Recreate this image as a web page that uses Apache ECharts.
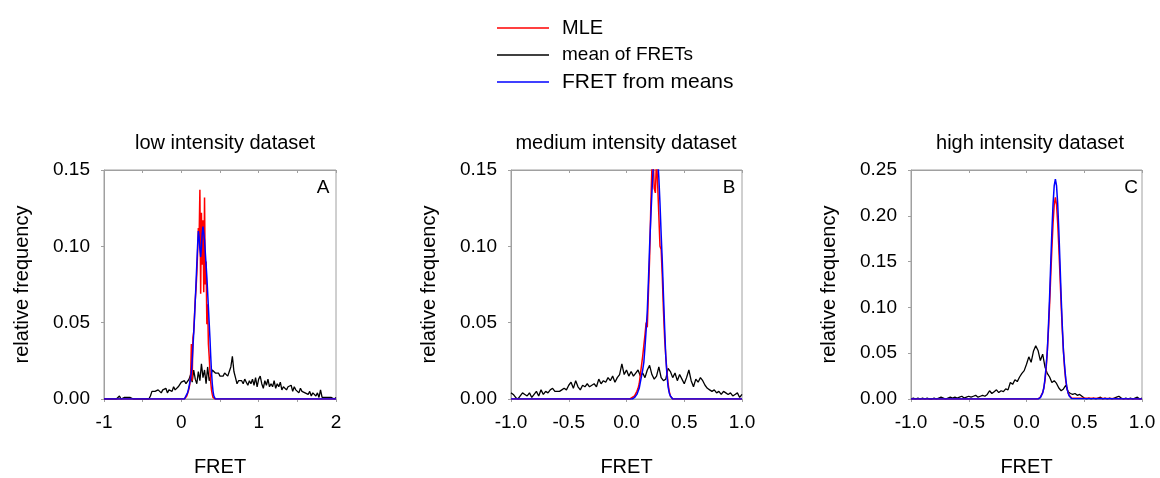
<!DOCTYPE html>
<html>
<head>
<meta charset="utf-8">
<script src="https://cdn.jsdelivr.net/npm/echarts@6/dist/echarts.min.js"></script>
<style>
html,body{margin:0;padding:0;background:#fff;}
#chart{width:1160px;height:478px;}
</style>
</head>
<body>
<div id="chart"></div>
<script>
// ---------------- DATA ----------------
const panelTitles = ['low intensity dataset', 'medium intensity dataset', 'high intensity dataset'];
const panelLetters = ['A', 'B', 'C'];
const seriesNames = ['MLE', 'mean of FRETs', 'FRET from means'];

// x ranges / ticks
const xMinA = -1, xMaxA = 2, xMinB = -1, xMaxB = 1, xMinC = -1, xMaxC = 1;
const yMaxA = 0.15, yMaxB = 0.15, yMaxC = 0.25;

// "mean of FRETs" histograms (bin step 0.02, first bin at x = -1.00)
const binStart = -1.0;
const binStep = 0.02;
const meanA = [
  0,0,0,0,0,0,0,0,0,0,
  0.002,0,0,0.001,0,0.001,0,0.001,0,0,
  0,0,0,0,0,0,0,0,0.001,0,
  0.002,0.005,0.004,0.005,0.004,0.006,0.005,0.004,0.006,0.005,
  0.007,0.004,0.006,0.007,0.005,0.008,0.006,0.007,0.008,0.009,
  0.011,0.010,0.012,0.010,0.011,0.013,0.016,0.011,0.019,0.013,
  0.010,0.018,0.012,0.023,0.014,0.019,0.010,0.021,0.012,0.015,
  0.019,0.018,0.017,0.016,0.017,0.015,0.016,0.015,0.017,0.016,
  0.015,0.018,0.021,0.028,0.018,0.014,0.010,0.012,0.011,0.012,
  0.010,0.013,0.011,0.009,0.012,0.010,0.013,0.009,0.014,0.008,
  0.013,0.015,0.010,0.007,0.012,0.009,0.013,0.008,0.010,0.008,
  0.012,0.007,0.010,0.008,0.011,0.006,0.008,0.009,0.006,0.008,
  0.007,0.009,0.005,0.008,0.006,0.007,0.004,0.007,0.005,0.006,
  0.004,0.005,0.003,0.005,0.002,0.004,0.003,0.002,0.004,0.001,
  0.006,0.001,0.000,0.001,0.002,0.001,0.002,0.001,0.002,0.000,
  0.001
];
const meanB = [
  0.004,0.003,0.001,0.000,0.002,0.004,0.003,0.002,0.004,0.001,
  0.003,0.005,0.002,0.006,0.003,0.005,0.004,0.006,0.007,0.005,
  0.005,0.005,0.006,0.007,0.006,0.009,0.011,0.007,0.012,0.008,
  0.006,0.009,0.008,0.010,0.008,0.009,0.010,0.008,0.013,0.010,
  0.012,0.011,0.014,0.012,0.015,0.011,0.014,0.016,0.023,0.016,
  0.019,0.015,0.018,0.015,0.017,0.019,0.015,0.017,0.014,0.019,
  0.022,0.016,0.013,0.015,0.021,0.014,0.012,0.013,0.020,0.018,
  0.014,0.017,0.012,0.016,0.013,0.010,0.014,0.019,0.012,0.008,
  0.013,0.011,0.014,0.012,0.009,0.007,0.006,0.005,0.006,0.004,
  0.005,0.003,0.005,0.004,0.003,0.004,0.002,0.003,0.004,0.001,
  0.003
];
const meanC = [
  0,0.001,0,0.001,0,0.001,0,0.001,0,0,
  0.001,0,0.001,0.002,0.001,0,0.001,0.002,0.001,0.002,
  0.001,0.002,0.003,0.001,0.002,0.003,0.002,0.003,0.004,0.002,
  0.003,0.004,0.003,0.005,0.009,0.006,0.008,0.010,0.007,0.009,
  0.008,0.011,0.010,0.018,0.016,0.021,0.019,0.024,0.028,0.031,
  0.038,0.046,0.040,0.052,0.058,0.053,0.042,0.049,0.035,0.028,
  0.024,0.018,0.020,0.017,0.012,0.009,0.011,0.015,0.008,0.006,
  0.005,0.006,0.004,0.005,0.003,0.001,0.000,0.001,0.000,0.001,
  0.000,0.001,0.002,0.000,0.001,0.000,0.001,0.000,0.001,0.002,
  0.003,0.001,0.000,0.001,0.000,0.001,0.000,0.001,0.002,0.000,
  0.001
];

// MLE and FRET-from-means curves (x positions and values)
const peakXA = [-1.00,
  0.04,0.05,0.06,0.07,0.08,0.09,0.10,0.11,0.12,0.13,0.14,0.15,0.16,0.17,0.18,0.19,0.20,0.21,0.22,0.23,
  0.24,0.25,0.26,0.27,0.28,0.29,0.30,0.31,0.32,0.33,0.34,0.35,0.36,0.37,0.38,0.39,0.40,0.41,0.42,0.43,
  0.44,0.45,0.46, 2.00];
const mleA = [0,
  0,0,0.001,0.002,0.003,0.005,0.007,0.010,0.015,0.036,0.012,0.040,0.044,0.043,0.065,0.072,0.082,0.095,0.112,0.105,
  0.137,0.069,0.122,0.088,0.117,0.070,0.132,0.075,0.090,0.049,0.062,0.036,0.028,0.018,0.011,0.006,0.003,0.001,0,0,
  0,0,0, 0];
const fromMeansA = [0,
  0,0.001,0.002,0.003,0.004,0.006,0.008,0.011,0.014,0.018,0.025,0.034,0.043,0.053,0.064,0.076,0.088,0.100,0.110,0.106,
  0.098,0.093,0.100,0.108,0.113,0.112,0.104,0.096,0.088,0.080,0.070,0.060,0.050,0.040,0.028,0.018,0.010,0.005,0.002,0.001,
  0,0,0, 0];

const peakXB = [-1.00,
  0.03,0.04,0.05,0.06,0.07,0.08,0.09,0.10,0.11,0.12,0.13,0.14,0.15,0.16,0.17,0.18,0.19,0.20,0.21,0.22,
  0.23,0.24,0.25,0.26,0.27,0.28,0.29,0.30,0.31,0.32,0.33,0.34,0.35,0.36,0.37,0.38,0.39,0.40,0.41,0.42,
  1.00];
const mleB = [0,
  0,0,0.001,0.001,0.002,0.003,0.005,0.007,0.010,0.016,0.022,0.028,0.035,0.042,0.050,0.047,0.070,0.092,0.125,0.152,
  0.160,0.138,0.135,0.158,0.140,0.120,0.100,0.098,0.080,0.058,0.040,0.028,0.018,0.010,0.005,0.002,0.001,0,0,0,
  0];
const fromMeansB = [0,
  0,0,0,0.001,0.001,0.002,0.003,0.004,0.007,0.011,0.015,0.019,0.024,0.034,0.045,0.058,0.078,0.100,0.118,0.135,
  0.150,0.162,0.168,0.166,0.158,0.145,0.128,0.108,0.090,0.068,0.047,0.028,0.016,0.008,0.004,0.002,0.001,0,0,0,
  0];

const peakXC = [-1.00,
  0.10,0.11,0.12,0.13,0.14,0.15,0.16,0.17,0.18,0.19,0.20,0.21,0.22,0.23,0.24,0.25,
  0.26,0.27,0.28,0.29,0.30,0.31,0.32,0.33,0.34,0.35,0.36,0.37,0.38,0.39,0.40,
  1.00];
const mleC = [0,
  0,0.001,0.002,0.004,0.007,0.012,0.020,0.033,0.052,0.075,0.103,0.135,0.165,0.192,0.212,0.220,
  0.212,0.192,0.165,0.135,0.103,0.075,0.052,0.033,0.020,0.012,0.007,0.004,0.002,0.001,0,
  0];
const fromMeansC = [0,
  0,0.0006,0.0015,0.0034,0.0066,0.012,0.022,0.036,0.052,0.080,0.112,0.149,0.184,0.213,0.233,0.240,
  0.233,0.213,0.184,0.149,0.112,0.080,0.052,0.036,0.022,0.012,0.0066,0.0034,0.0015,0.0006,0,
  0];

// ---------------- CHART ----------------
const FONT = "'Liberation Sans', Arial, sans-serif";
const GRAY = '#a0a0a0';
const grids = [
  {left: 104, top: 170, width: 232, height: 229},
  {left: 511, top: 170, width: 231, height: 229},
  {left: 911, top: 170, width: 231, height: 229}
];
const xRanges = [[xMinA, xMaxA], [xMinB, xMaxB], [xMinC, xMaxC]];
const yMaxes = [yMaxA, yMaxB, yMaxC];
const meanSets = [meanA, meanB, meanC];
const peakXs = [peakXA, peakXB, peakXC];
const mleSets = [mleA, mleB, mleC];
const fmSets = [fromMeansA, fromMeansB, fromMeansC];

function pairs(xs, ys) { return ys.map((y, i) => [xs[i], y]); }
function binned(ys) { return ys.map((y, i) => [+(binStart + i * binStep).toFixed(2), y]); }

const xAxes = [], yAxes = [], series = [];
for (let i = 0; i < 3; i++) {
  const isA = i === 0;
  xAxes.push({
    type: 'value', gridIndex: i, position: 'bottom',
    min: xRanges[i][0], max: xRanges[i][1], interval: 0.5,
    axisLine: {show: true, onZero: false, lineStyle: {color: GRAY, width: 1}},
    axisTick: {show: true, inside: false, length: 3, lineStyle: {color: GRAY}},
    splitLine: {show: false},
    axisLabel: {
      show: true, color: '#000', fontFamily: FONT, fontSize: 19, lineHeight: 20, margin: 14,
      showMinLabel: true, showMaxLabel: true,
      formatter: isA
        ? (v => Math.abs(v - Math.round(v)) < 1e-9 ? String(Math.round(v)) : '')
        : (v => v.toFixed(1))
    },
    name: 'FRET', nameLocation: 'middle', nameGap: 58,
    nameTextStyle: {color: '#000', fontFamily: FONT, fontSize: 20, lineHeight: 20}
  });
  yAxes.push({
    type: 'value', gridIndex: i, min: 0, max: yMaxes[i], interval: 0.05,
    axisLine: {show: true, onZero: false, lineStyle: {color: GRAY, width: 1}},
    axisTick: {show: true, inside: false, length: 3, lineStyle: {color: GRAY}},
    splitLine: {show: false},
    axisLabel: {show: true, color: '#000', fontFamily: FONT, fontSize: 19, margin: 14,
      showMinLabel: true, showMaxLabel: true, formatter: v => v.toFixed(2)},
    name: 'relative frequency', nameLocation: 'middle', nameGap: 72,
    nameTextStyle: {color: '#000', fontFamily: FONT, fontSize: 20, lineHeight: 20}
  });
}
for (let i = 0; i < 3; i++) {
  xAxes.push({
    type: 'value', gridIndex: i, position: 'top',
    min: xRanges[i][0], max: xRanges[i][1], interval: 0.5,
    axisLine: {show: true, onZero: false, lineStyle: {color: GRAY, width: 1}},
    axisTick: {show: true, inside: true, length: 3, lineStyle: {color: GRAY}},
    axisLabel: {show: false}, splitLine: {show: false}
  });
}
for (let i = 0; i < 3; i++) {
  series.push({
    name: 'mean of FRETs', type: 'line', xAxisIndex: i, yAxisIndex: i,
    data: binned(meanSets[i]), showSymbol: false, symbol: 'none',
    lineStyle: {color: '#000000', width: 1.3}, itemStyle: {color: '#000000'}, z: 2
  });
  series.push({
    name: 'MLE', type: 'line', xAxisIndex: i, yAxisIndex: i,
    data: pairs(peakXs[i], mleSets[i]), showSymbol: false, symbol: 'none',
    lineStyle: {color: '#ff0000', width: 1.5}, itemStyle: {color: '#ff0000'}, z: 3
  });
  series.push({
    name: 'FRET from means', type: 'line', xAxisIndex: i, yAxisIndex: i,
    data: pairs(peakXs[i], fmSets[i]), showSymbol: false, symbol: 'none',
    lineStyle: {color: '#0000ff', width: 1.5}, itemStyle: {color: '#0000ff'}, z: 4
  });
}

const legendRows = [
  {name: 'MLE', top: 17, fontSize: 20},
  {name: 'mean of FRETs', top: 44, fontSize: 19},
  {name: 'FRET from means', top: 71, fontSize: 21}
];
const legends = legendRows.map(r => ({
  left: 497, top: r.top, padding: 0, orient: 'vertical',
  icon: 'rect', itemWidth: 52, itemHeight: 1.5,
  selectedMode: false,
  data: [r.name],
  textStyle: {color: '#000', fontFamily: FONT, fontSize: r.fontSize, lineHeight: 22, padding: [0, 0, 0, 8]}
}));

const titleCenters = [225, 626, 1030];
const letterPos = [[323, 188], [729, 188], [1131, 188]];
const graphics = [];
for (let i = 0; i < 3; i++) {
  graphics.push({type: 'text', x: titleCenters[i], y: 143, silent: true,
    style: {text: panelTitles[i], align: 'center', verticalAlign: 'middle', fontFamily: FONT, fontSize: 20, fill: '#000'}});
  graphics.push({type: 'text', x: letterPos[i][0], y: letterPos[i][1], silent: true, z: 100,
    style: {text: panelLetters[i], align: 'center', verticalAlign: 'middle', fontFamily: FONT, fontSize: 19, fill: '#000'}});
}

const chart = echarts.init(document.getElementById('chart'), null, {renderer: 'canvas'});
chart.setOption({
  animation: false,
  backgroundColor: '#ffffff',
  grid: grids.map(g => Object.assign({show: true, borderColor: GRAY, borderWidth: 1, backgroundColor: 'transparent', containLabel: false}, g)),
  xAxis: xAxes,
  yAxis: yAxes,
  legend: legends,
  series: series,
  graphic: graphics
});
</script>
</body>
</html>
